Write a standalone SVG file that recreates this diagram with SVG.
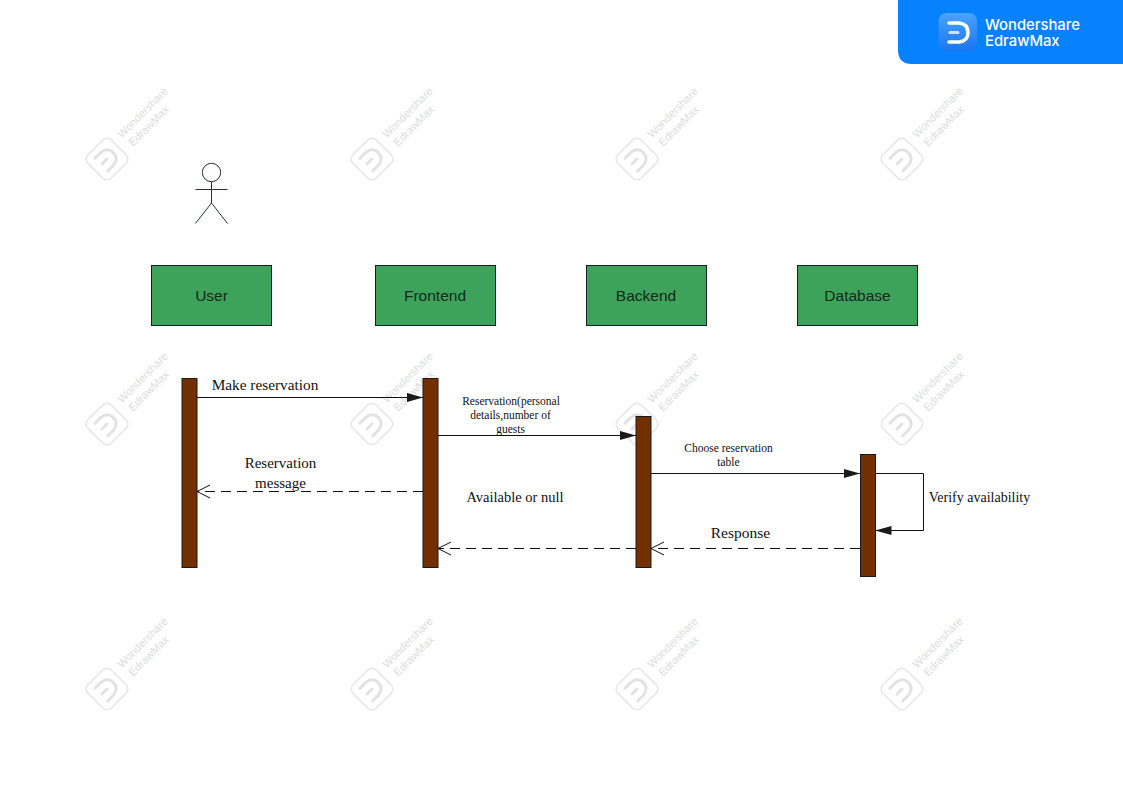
<svg xmlns="http://www.w3.org/2000/svg" width="1123" height="794" viewBox="0 0 1123 794">
<style>
.node{fill:#3da35a;stroke:#10202a;stroke-width:1}
.nt{font-family:"Liberation Sans",Arial,sans-serif;font-size:15.5px;fill:#12291c;text-anchor:middle}
.bar{fill:#732f00;stroke:#1a1a1a;stroke-width:1}
.sm{font-family:"Liberation Serif","Times New Roman",serif;font-size:11.5px;fill:#111;text-anchor:middle}
.lb{font-family:"Liberation Serif","Times New Roman",serif;font-size:15px;fill:#111;text-anchor:middle}
.ln{fill:none;stroke:#111;stroke-width:1}
.solid{marker-end:url(#fill)}
.dash{stroke-dasharray:10 6;marker-end:url(#open)}
.act{fill:none;stroke:#2b2f42;stroke-width:1}
.wm{font-family:"Liberation Sans",Arial,sans-serif;font-size:11px;fill:#dcdcdc}
</style>
<defs>
<marker id="fill" markerUnits="userSpaceOnUse" markerWidth="16" markerHeight="10" refX="16" refY="5" orient="auto"><path d="M0 0.5L16 5L0 9.5Z" fill="#1a1a1a"/></marker>
<marker id="open" markerUnits="userSpaceOnUse" markerWidth="15" markerHeight="16" refX="14" refY="7" orient="auto"><path d="M1 0.5L14 7L1 13.5" fill="none" stroke="#111" stroke-width="1"/></marker>
<g id="wmark">
<rect x="90.500" y="142.500" width="33" height="33" rx="6" transform="rotate(45 107 159)" fill="#fff" stroke="#e6e6e6" stroke-width="1.500"/>
<path d="M99 150H107Q116 151 116 159Q116 167 107 168H99" transform="rotate(-45 107 159)" fill="none" stroke="#e2e2e2" stroke-width="3" stroke-linecap="round"/>
<path d="M100 159H107" transform="rotate(-45 107 159)" fill="none" stroke="#e2e2e2" stroke-width="3" stroke-linecap="round"/>
<text class="wm" transform="translate(122 138.500) rotate(-45)">Wondershare</text>
<text class="wm" transform="translate(133 147) rotate(-45)">EdrawMax</text>
</g>
<linearGradient id="ic" x1="0" y1="0" x2="0" y2="1"><stop offset="0" stop-color="#4aa3ff"/><stop offset="1" stop-color="#1a76f0"/></linearGradient>
</defs>
<rect width="1123" height="794" fill="#fff"/>
<g id="watermarks">
<use href="#wmark"/><use href="#wmark" x="265"/><use href="#wmark" x="530"/><use href="#wmark" x="795"/>
<use href="#wmark" y="265"/><use href="#wmark" x="265" y="265"/><use href="#wmark" x="530" y="265"/><use href="#wmark" x="795" y="265"/>
<use href="#wmark" y="530"/><use href="#wmark" x="265" y="530"/><use href="#wmark" x="530" y="530"/><use href="#wmark" x="795" y="530"/>
</g>
<g id="logo">
<path d="M898 0H1123V64H912Q898 64 898 50Z" fill="#0682ff"/>
<rect x="938.500" y="13" width="38.500" height="38.500" rx="8" fill="url(#ic)"/>
<path d="M949 23H959Q968 24 968 32.500Q968 41 959 42H949" fill="none" stroke="#fff" stroke-width="3.500" stroke-linecap="round"/>
<path d="M950 32.500H958" fill="none" stroke="#cfe5ff" stroke-width="3" stroke-linecap="round"/>
<text x="985" y="30" font-family="Inter,'Liberation Sans',sans-serif" font-size="14.800" font-weight="500" fill="#fff">Wondershare</text>
<text x="985" y="46" font-family="Inter,'Liberation Sans',sans-serif" font-size="14.800" font-weight="500" fill="#fff">EdrawMax</text>
</g>
<g id="actor">
<circle class="act" cx="211.500" cy="172.500" r="9.200"/>
<path class="act" d="M211.500 182V203M195.500 189.500H227.500M211.500 203L195.500 223.500M211.500 203L227.500 223.500"/>
</g>
<g id="user"><rect class="node" x="151.500" y="265.500" width="120" height="60"/><text class="nt" x="211.500" y="301">User</text></g>
<g id="frontend"><rect class="node" x="375.500" y="265.500" width="120" height="60"/><text class="nt" x="435" y="301">Frontend</text></g>
<g id="backend"><rect class="node" x="586.500" y="265.500" width="120" height="60"/><text class="nt" x="646" y="301">Backend</text></g>
<g id="database"><rect class="node" x="797.500" y="265.500" width="120" height="60"/><text class="nt" x="857.500" y="301">Database</text></g>
<g id="bar-user"><rect class="bar" x="182" y="378.500" width="15" height="189"/></g>
<g id="bar-frontend"><rect class="bar" x="423" y="378.500" width="15" height="189"/></g>
<g id="bar-backend"><rect class="bar" x="636" y="416.500" width="15" height="151"/></g>
<g id="bar-database"><rect class="bar" x="860.500" y="454.500" width="15" height="122"/></g>
<g id="connectors">
<path class="ln solid" d="M197 397.500H423"/>
<path class="ln solid" d="M438 435.500H636"/>
<path class="ln solid" d="M651 473.500H860"/>
<path class="ln solid" d="M875.500 473.500H923.500V530.500H875.500"/>
<path class="ln dash" d="M423 491.500H197"/>
<path class="ln dash" d="M636 548.500H438"/>
<path class="ln dash" d="M860 548.500H651"/>
</g>
<g id="labels">
<text class="lb" x="265" y="390" style="font-size:15.300px">Make reservation</text>
<text class="lb" x="280.500" y="468">Reservation</text>
<text class="lb" x="280.500" y="488">message</text>
<text class="sm" x="511" y="405">Reservation(personal</text>
<text class="sm" x="510.500" y="419">details,number of</text>
<text class="sm" x="510.500" y="433">guests</text>
<text class="lb" x="515" y="502" style="font-size:14.500px">Available or null</text>
<text class="sm" x="728.500" y="452">Choose reservation</text>
<text class="sm" x="728.500" y="466">table</text>
<text class="lb" x="979.500" y="502" style="font-size:14px">Verify availability</text>
<text class="lb" x="740.500" y="538" style="font-size:15.500px">Response</text>
</g>
</svg>
